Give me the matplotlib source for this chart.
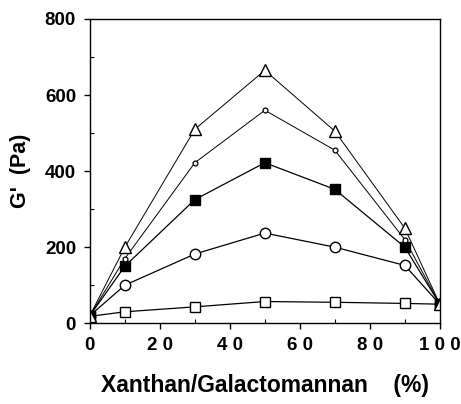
import matplotlib
matplotlib.use('Agg')
import matplotlib.pyplot as plt
from matplotlib.ticker import MultipleLocator

plt.rcParams['font.family'] = ['Liberation Sans', 'DejaVu Sans']
plt.rcParams['font.weight'] = 'bold'

# xanthan fraction in the blend (%)
ratio = [0, 10, 30, 50, 70, 90, 100]

# G' (Pa) for each series
g_triangle = [20, 200, 510, 665, 505, 250, 50]
g_dot = [20, 170, 422, 560, 455, 220, 50]
g_filled_sq = [20, 150, 325, 422, 352, 200, 50]
g_circle = [20, 100, 182, 237, 200, 152, 50]
g_open_sq = [18, 30, 43, 57, 55, 52, 50]

x_ticks = [0, 20, 40, 60, 80, 100]
x_ticklabels = ['0', '2 0', '4 0', '6 0', '8 0', '1 0 0']
y_ticks = [0, 200, 400, 600, 800]

fig = plt.figure(figsize=(4.61, 4.04), dpi=100)
ax = fig.add_axes([0.195, 0.200, 0.759, 0.753])

lw = 0.9
ax.plot(ratio, g_open_sq, '-s', color='black', lw=lw, ms=7, mfc='white', mew=1.0)
ax.plot(ratio, g_circle, '-o', color='black', lw=lw, ms=7.5, mfc='white', mew=1.0)
ax.plot(ratio, g_filled_sq, '-s', color='black', lw=lw, ms=7, mfc='black', mew=1.0)
ax.plot(ratio, g_dot, '-o', color='black', lw=0.7, ms=3.5, mfc='white', mew=0.9)
ax.plot(ratio, g_triangle, '-^', color='black', lw=0.7, ms=8, mfc='white', mew=1.0)

ax.set_xlim(0, 100)
ax.set_ylim(0, 800)
ax.set_xticks(x_ticks)
ax.set_xticklabels(x_ticklabels)
ax.set_yticks(y_ticks)
ax.xaxis.set_minor_locator(MultipleLocator(10))
ax.yaxis.set_minor_locator(MultipleLocator(100))
ax.tick_params(which='major', direction='out', length=4, width=1, labelsize=13.5, pad=6)
ax.tick_params(which='minor', direction='in', length=3, width=0.8)
for lab in ax.get_xticklabels() + ax.get_yticklabels():
    lab.set_fontweight('bold')

for s in ax.spines.values():
    s.set_linewidth(1.0)

ax.set_ylabel("G'  (Pa)", fontsize=15.5, fontweight='bold', labelpad=10)
ax.set_xlabel('Xanthan/Galactomannan    (%)', fontsize=16.5, fontweight='bold', labelpad=14)

fig.savefig('out.png', dpi=100, facecolor='white')
